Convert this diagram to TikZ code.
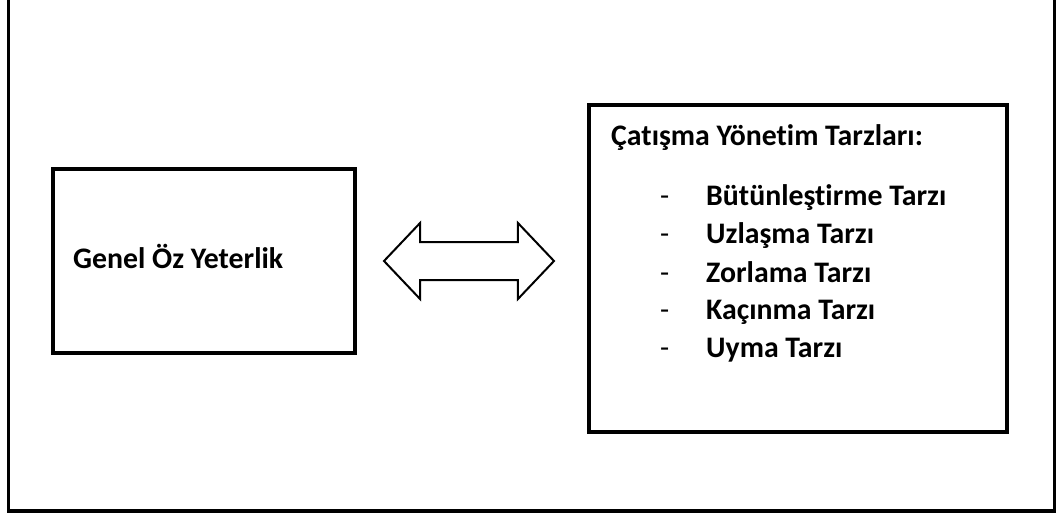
\documentclass[tikz,border=0pt]{standalone}
\usepackage{fontspec}
\setmainfont[Ligatures=NoCommon]{Carlito}
\usetikzlibrary{shapes.arrows}

\begin{document}
\begin{tikzpicture}[x=1pt,y=-1pt, font=\fontsize{29.8}{36}\selectfont\bfseries, line join=miter]
    \tikzset{kutu/.style={draw,line width=4pt,inner sep=0pt},
             yazi/.style={anchor=base west,inner sep=0pt}}
    \useasboundingbox (0,0) rectangle (1057,517);
    \clip (0,0) rectangle (1057,517);
    % dış çerçeve
    \draw[line width=3.5pt] (8.5,-20) rectangle (1054.5,511);
    % kutular
    \node[kutu,minimum width=302,minimum height=183.5] (oz) at (204,260.75) {};
    \node[kutu,minimum width=418,minimum height=326.5] (tarz) at (798,268.25) {};
    \node[yazi] (ozyazi) at (73,268) {Genel Öz Yeterlik};
    % çift ok
    \node[draw,line width=2pt,double arrow,inner xsep=0pt,inner ysep=18pt,minimum height=170,
          double arrow head extend=19,double arrow tip angle=93] (ok) at (469,261) {};
    % liste
    \node[yazi] (baslik) at (611,145) {Çatışma Yönetim Tarzları:};
    \foreach \y/\ad [count=\i] in {205/Bütünleştirme Tarzı,243/Uzlaşma Tarzı,282/Zorlama Tarzı,319/Kaçınma Tarzı,357/Uyma Tarzı}{
        \node[yazi] (tire\i) at (660,\y) {\mdseries -};
        \node[yazi] (madde\i) at (706,\y) {\ad};
    }
\end{tikzpicture}
\end{document}
